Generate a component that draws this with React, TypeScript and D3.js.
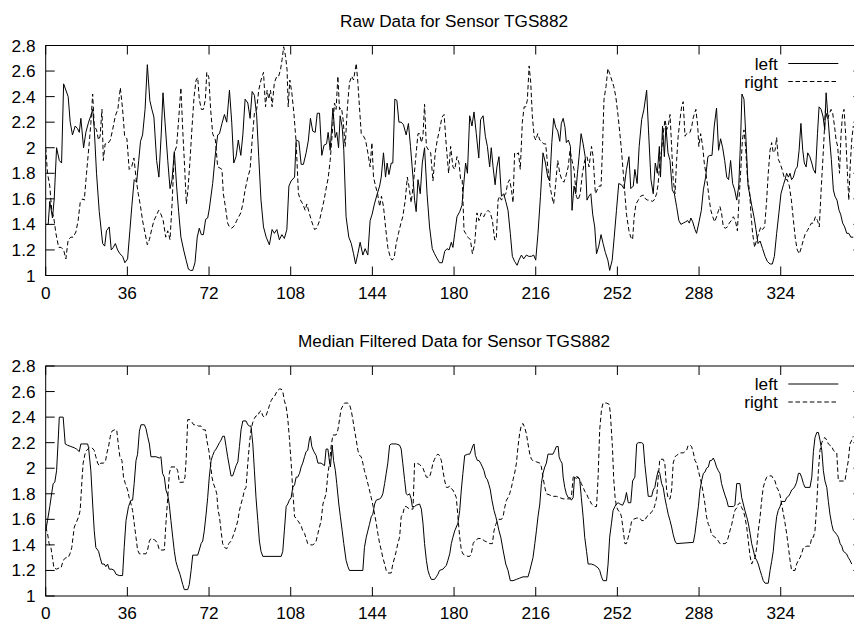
import React from "react";
import * as d3 from "d3";

// ---- data (x = sample index, y = sensor value) ----
const rawLeft: [number, number][] = [[0,1.40],[1.1,1.40],[1.8,1.58],[3,1.45],[3.75,1.6],[4.8,2.0],[6,1.9],[7,1.88],[7.9,2.5],[9.9,2.4],[10.8,2.2],[11.8,2.1],[13,2.17],[14,2.15],[14.8,2.12],[15.5,2.23],[16.7,2.0],[17.7,2.12],[18.9,2.2],[19.9,2.25],[20.7,2.3],[21.4,2.15],[22.4,1.8],[23.6,1.5],[25.1,1.25],[26,1.23],[26.8,1.35],[28,1.38],[28.9,1.2],[29.8,1.22],[30.7,1.25],[31.7,1.2],[32.7,1.17],[33.9,1.15],[34.9,1.1],[36.1,1.13],[37.1,1.35],[38,1.55],[39,1.75],[40.1,1.73],[41,1.9],[41.8,2.05],[42.7,2.1],[43.8,2.3],[44.8,2.65],[45.9,2.37],[46.8,2.3],[47.7,2.24],[48.9,1.9],[49.9,1.77],[50.9,2.1],[51.7,2.43],[52.6,2.2],[53.8,1.9],[54.8,1.68],[55.7,1.75],[56.7,1.97],[57.7,1.7],[58.6,1.5],[59.6,1.3],[60.8,1.2],[61.9,1.12],[62.9,1.05],[63.8,1.04],[64.8,1.04],[65.8,1.1],[66.8,1.3],[67.7,1.37],[68.6,1.32],[69.5,1.32],[70.5,1.44],[71.4,1.45],[72.1,1.52],[73.6,1.72],[74.8,1.95],[75.8,2.1],[76.6,2.11],[77.7,2.19],[78.8,2.26],[79.8,2.2],[81,2.45],[82,2.2],[82.9,1.88],[83.9,1.93],[84.9,2.06],[86,1.94],[86.9,2.1],[87.9,2.38],[89.1,2.35],[90.1,2.23],[91,2.44],[92,2.41],[93,2.25],[93.9,1.93],[94.9,1.59],[96,1.38],[97.2,1.3],[98.6,1.24],[99.8,1.36],[100.8,1.33],[101.9,1.36],[103,1.28],[104.1,1.32],[105.2,1.29],[106.3,1.36],[107.2,1.7],[108.2,1.74],[109.7,1.77],[110.4,2.06],[111.6,2.05],[112.6,1.87],[113.6,1.87],[114.8,1.96],[115.8,2.06],[116.7,2.23],[117.7,2.13],[118.8,2.12],[119.7,2.27],[120.7,2.27],[121.7,1.94],[122.7,2.02],[123.8,2.03],[124.5,2.12],[125.4,1.98],[126.6,2.31],[127.6,2.08],[128.3,2.12],[129.1,2.0],[129.8,2.25],[130.7,2.16],[131.4,1.98],[132.4,1.46],[133.6,1.3],[134.7,1.25],[135.7,1.17],[136.6,1.09],[137.6,1.17],[138.6,1.26],[139.8,1.16],[140.8,1.21],[142,1.16],[143,1.43],[143.9,1.48],[144.9,1.56],[146,1.63],[147.2,1.7],[147.9,1.77],[148.9,1.96],[149.8,1.77],[150.5,1.88],[151.3,1.79],[152.3,1.88],[153,1.88],[153.9,2.38],[154.8,2.37],[155.7,2.2],[156.7,2.2],[157.7,2.18],[158.9,2.1],[159.9,2.19],[160.8,2.01],[161.9,1.77],[162.6,1.59],[163.3,1.5],[164.1,1.75],[165.1,1.64],[166,1.88],[167,2.0],[168.1,1.64],[169.2,1.38],[170.4,1.21],[171.4,1.17],[172.6,1.13],[173.6,1.1],[174.8,1.1],[175.9,1.19],[176.9,1.21],[177.8,1.2],[178.8,1.26],[179.5,1.22],[180.3,1.33],[181.3,1.46],[182.5,1.5],[183.5,1.55],[184.2,1.7],[185.1,1.88],[185.9,1.8],[186.9,2.25],[187.9,2.17],[188.8,2.28],[189.8,2.11],[190.9,1.92],[191.7,2.22],[192.8,2.25],[193.8,2.09],[194.7,2.01],[195.7,1.85],[196.4,2.0],[197.2,1.85],[198.1,1.71],[198.9,1.85],[199.8,1.93],[200.9,1.62],[201.9,1.64],[202.8,1.58],[203.8,1.51],[204.8,1.33],[205.7,1.15],[206.7,1.11],[207.8,1.08],[208.6,1.12],[209.7,1.16],[210.7,1.13],[211.9,1.16],[212.9,1.15],[214.1,1.15],[215.1,1.16],[216,1.12],[217,1.33],[218.1,1.62],[219.2,1.96],[220.3,1.88],[221.3,1.77],[222.2,1.74],[223.1,2.04],[223.9,2.23],[224.8,2.16],[225.7,2.13],[226.6,2.05],[227.3,2.19],[228.1,2.23],[228.9,2.16],[229.5,2.04],[230.4,2.06],[231.3,2.01],[232,1.51],[232.9,1.7],[233.6,1.64],[234.4,1.8],[235.1,1.93],[236,2.11],[236.9,2.03],[237.8,1.93],[238.6,1.59],[239.4,1.62],[240.3,1.64],[241.1,1.48],[242,1.38],[242.8,1.17],[243.8,1.23],[244.8,1.32],[245.7,1.25],[246.7,1.18],[247.8,1.12],[248.6,1.04],[249.7,1.12],[250.6,1.3],[251.6,1.51],[252.6,1.72],[253.8,1.71],[254.9,1.68],[256,1.83],[257.1,1.93],[257.9,1.68],[259,1.7],[259.7,1.83],[260.7,1.72],[261.6,2.01],[262.7,2.22],[263.7,2.3],[264.9,2.45],[265.7,2.14],[266.8,1.75],[267.8,1.64],[268.7,1.88],[269.6,1.8],[270.5,2.01],[271,1.77],[271.9,2.17],[272.7,1.93],[273.4,2.17],[274.3,1.96],[275.2,1.9],[276.2,1.67],[277.1,1.64],[278.1,1.54],[279.1,1.43],[280,1.4],[281,1.41],[282.1,1.42],[283,1.43],[283.7,1.41],[284.4,1.45],[285.2,1.42],[286.2,1.36],[286.9,1.33],[288,1.42],[289,1.51],[289.9,1.67],[290.9,1.77],[291.9,1.93],[292.8,1.94],[293.7,1.94],[294.7,2.17],[295.7,2.31],[296.6,1.98],[297.5,2.07],[298.4,2.0],[299.3,1.9],[300.2,1.77],[301,1.75],[301.9,1.9],[302.8,1.72],[303.7,1.67],[304.6,1.59],[305.5,1.7],[306.3,2.06],[306.9,2.42],[307.8,2.38],[308.7,2.06],[309.6,1.7],[310.5,1.62],[311.3,1.54],[312.2,1.46],[313.1,1.36],[314,1.25],[314.9,1.27],[316,1.21],[317.1,1.15],[318.1,1.11],[319.3,1.09],[320.3,1.09],[321.2,1.15],[322.2,1.33],[323.2,1.49],[324.1,1.64],[325.2,1.71],[325.9,1.75],[326.6,1.8],[327.4,1.77],[328.1,1.8],[328.8,1.75],[329.6,1.77],[330.5,1.83],[331.3,1.85],[332.1,1.98],[332.9,2.19],[333.7,1.98],[334.4,1.88],[335.2,1.85],[335.9,1.96],[336.8,1.93],[337.7,1.88],[338.4,1.83],[339.3,1.8],[340.2,2.11],[340.9,2.32],[341.8,2.3],[342.7,2.24],[343.4,2.14],[344,2.43],[344.9,2.22],[345.6,2.06],[346.3,1.91],[347.2,1.67],[347.9,1.62],[348.8,1.59],[349.7,1.51],[350.4,1.48],[351.3,1.41],[352.2,1.38],[353.1,1.33],[354,1.33],[354.9,1.3],[356,1.3]];

const rawRight: [number, number][] = [[0,2.0],[0.8,1.8],[1.8,1.7],[2.7,1.5],[3.5,1.46],[4.5,1.33],[5.7,1.22],[6.8,1.22],[7.9,1.2],[8.9,1.13],[9.9,1.28],[11.1,1.3],[12.1,1.3],[13.3,1.34],[14.3,1.43],[15.2,1.57],[16.3,1.6],[17,1.59],[18,1.8],[19.2,2.04],[19.9,2.19],[20.7,2.42],[21.4,2.17],[22.4,2.14],[23.3,2.06],[24,2.09],[24.8,2.3],[25.4,1.9],[26.2,2.03],[27.3,2.03],[28.5,2.06],[29.5,2.14],[30.7,2.25],[31.8,2.3],[32.9,2.47],[33.9,2.3],[34.8,2.09],[35.8,2.07],[36.8,1.83],[37.9,1.85],[38.9,1.92],[39.9,1.75],[40.8,1.64],[41.8,1.54],[42.7,1.43],[43.8,1.33],[44.8,1.24],[45.7,1.28],[46.7,1.36],[47.7,1.43],[48.8,1.47],[49.8,1.51],[50.8,1.48],[51.8,1.43],[52.9,1.3],[53.8,1.35],[54.8,1.28],[55.7,1.56],[56.7,1.96],[57.7,2.01],[58.6,2.22],[59.6,2.47],[60.4,2.14],[61.1,1.9],[62,1.56],[62.7,1.67],[63.6,1.9],[64.5,2.16],[65.4,2.4],[66.3,2.53],[67,2.55],[67.7,2.38],[68.6,2.3],[69.5,2.3],[70.4,2.38],[71,2.59],[71.9,2.55],[72.7,2.3],[73.6,2.11],[74.8,2.06],[75.8,1.85],[76.9,1.84],[77.7,1.83],[78.3,1.64],[79.2,1.54],[80.2,1.41],[81,1.38],[82,1.37],[83.2,1.39],[84.2,1.43],[85.1,1.46],[86,1.49],[86.9,1.56],[87.9,1.67],[89.1,1.77],[90.1,1.83],[91,2.06],[92,2.27],[93,2.3],[93.9,2.45],[94.9,2.53],[96,2.59],[96.9,2.32],[97.6,2.45],[98.3,2.38],[99.1,2.45],[99.8,2.32],[100.8,2.51],[101.9,2.56],[102.7,2.56],[103.5,2.61],[104.2,2.69],[104.9,2.79],[105.7,2.72],[106.4,2.61],[106.9,2.32],[107.6,2.53],[108.5,2.43],[109.4,2.27],[110.4,2.04],[111.4,1.64],[112.3,1.59],[113.3,1.56],[114.4,1.51],[115.1,1.56],[116.3,1.48],[117.3,1.42],[118.5,1.36],[119.5,1.37],[120.7,1.43],[121.7,1.51],[122.7,1.59],[123.8,1.7],[124.5,1.76],[125.4,1.9],[126.3,2.11],[127.3,2.35],[128,2.3],[128.8,2.56],[129.5,2.3],[130.4,2.31],[131.1,2.22],[132,2.01],[133,2.32],[133.9,2.51],[134.9,2.56],[135.7,2.53],[136.9,2.66],[137.6,2.51],[138.3,2.32],[139.1,2.11],[140.1,2.09],[141,2.06],[142,1.96],[143,1.85],[143.8,2.04],[144.5,1.77],[145.4,1.7],[146.3,1.64],[147.2,1.54],[148,1.62],[148.9,1.54],[149.8,1.38],[150.8,1.22],[151.9,1.14],[152.7,1.12],[153.6,1.14],[154.5,1.25],[155.5,1.33],[156.6,1.41],[157.4,1.46],[158.5,1.59],[159.4,1.77],[160.1,1.7],[161.1,1.57],[162.1,1.72],[163,1.9],[164.1,2.11],[164.8,2.11],[165.6,2.04],[166.3,2.09],[167,2.34],[167.8,2.01],[168.8,1.98],[169.7,1.96],[170.7,1.74],[171.7,1.96],[172.6,2.06],[173.6,2.14],[174.7,2.24],[175.6,2.26],[176.6,2.01],[177.6,1.8],[178.5,2.01],[179.5,1.85],[180.3,1.83],[181.3,1.93],[182.2,1.88],[182.9,1.75],[183.6,1.75],[184.4,1.35],[185.1,1.33],[186.1,1.3],[187.2,1.28],[188.1,1.17],[189.1,1.25],[190.1,1.49],[191,1.43],[192,1.49],[193.1,1.46],[193.9,1.49],[195,1.51],[196,1.49],[196.9,1.43],[197.9,1.28],[198.6,1.28],[199.4,1.59],[200.1,1.62],[200.9,1.59],[201.9,1.62],[202.8,1.64],[203.6,1.72],[204.5,1.75],[205.3,1.67],[206,1.57],[206.7,1.96],[207.5,1.95],[208.4,1.96],[209.2,1.83],[210.1,2.2],[210.9,2.32],[211.6,2.32],[212.3,2.37],[213.1,2.64],[213.8,2.51],[214.5,2.25],[215.3,2.09],[216,2.06],[216.9,2.11],[217.8,2.06],[218.6,2.05],[219.5,2.03],[220.4,2.03],[221.3,1.85],[222.2,1.71],[223.1,1.62],[223.9,1.56],[224.8,1.72],[225.7,1.9],[226.6,1.8],[227.5,1.75],[228.4,1.73],[229.2,1.77],[230.3,1.85],[231.1,1.98],[232,1.9],[232.9,1.83],[233.9,1.62],[234.7,1.59],[235.6,1.64],[236.6,1.8],[237.6,1.9],[238.6,1.93],[239.5,1.85],[240.6,2.01],[241.3,1.93],[242.3,1.64],[243.1,1.67],[243.9,1.7],[244.8,1.7],[245.4,1.98],[246.1,2.38],[247,2.48],[247.8,2.62],[248.6,2.58],[249.5,2.53],[250.4,2.48],[251.3,2.4],[252.3,2.25],[253.1,2.11],[253.8,1.98],[254.6,1.8],[255.3,1.64],[256,1.48],[257.1,1.35],[257.9,1.3],[258.7,1.28],[259.4,1.46],[260.2,1.56],[261.2,1.59],[262.2,1.62],[263.4,1.63],[264.4,1.6],[265.3,1.59],[266.3,1.59],[267.4,1.58],[268.2,1.59],[269.3,1.64],[270,1.72],[270.7,1.9],[271.5,1.98],[272.2,2.11],[273,2.22],[273.7,2.14],[274.4,2.17],[275.2,2.26],[275.9,2.01],[276.6,1.75],[277.4,1.64],[278.1,1.9],[278.8,2.09],[279.6,2.22],[280.3,2.32],[281,2.36],[281.8,2.09],[282.5,2.11],[283.2,2.11],[284,2.12],[284.7,2.16],[285.5,2.24],[286.6,2.3],[287.4,2.17],[287.9,2.01],[288.7,2.11],[289.6,2.01],[290.3,1.88],[291,1.8],[291.8,1.7],[292.5,1.59],[293.2,1.51],[294,1.46],[294.9,1.42],[295.7,1.46],[296.6,1.51],[297.2,1.54],[297.9,1.49],[298.7,1.38],[299.6,1.37],[300.5,1.38],[301.3,1.41],[302.2,1.43],[303.1,1.46],[304,1.43],[304.9,1.35],[305.6,1.59],[306.3,1.8],[307.1,2.06],[307.8,2.14],[308.5,2.01],[309.3,1.77],[310.2,1.67],[310.9,1.48],[311.6,1.33],[312.5,1.22],[313.4,1.28],[314.3,1.33],[315.2,1.38],[316,1.36],[316.9,1.38],[317.8,1.59],[318.5,1.8],[319.3,1.98],[320,2.04],[320.7,1.96],[321.5,1.98],[322.2,2.08],[322.9,1.91],[323.7,1.88],[324.6,1.83],[325.5,1.77],[326.2,1.75],[326.9,1.75],[327.8,1.7],[328.7,1.59],[329.6,1.43],[330.5,1.28],[331.3,1.2],[332.2,1.17],[333.1,1.22],[334,1.28],[334.9,1.33],[335.7,1.35],[336.6,1.38],[337.5,1.41],[338.4,1.41],[339.3,1.46],[340.2,1.43],[341,1.38],[341.9,1.7],[342.8,1.98],[343.7,2.3],[344.6,2.22],[345.5,2.27],[346.2,2.3],[346.9,2.27],[347.7,2.17],[348.4,2.06],[349.1,2.01],[349.9,1.8],[350.6,2.11],[351.3,2.27],[351.9,2.3],[352.6,2.11],[353.4,1.8],[354,1.59],[354.6,1.85],[355.3,2.06],[356,2.17]];

const medLeft: [number, number][] = [[0,1.51],[0.8,1.59],[1.8,1.7],[2.6,1.8],[3.3,1.88],[4,1.89],[4.8,1.98],[5.5,2.22],[6,2.4],[7.7,2.4],[8.6,2.19],[9.6,2.18],[11.1,2.17],[12.6,2.16],[13.6,2.15],[14.8,2.13],[15.5,2.19],[16.3,2.19],[18.5,2.19],[18.9,2.16],[19.9,1.98],[20.7,1.72],[21.4,1.51],[22.1,1.38],[23.3,1.35],[24,1.3],[24.8,1.25],[25.8,1.25],[26.5,1.23],[27.3,1.25],[28,1.21],[29.2,1.21],[30.2,1.2],[31,1.17],[32.4,1.16],[33.9,1.16],[34.6,1.38],[35.4,1.59],[36.5,1.7],[37.6,1.75],[38.3,1.75],[39,1.88],[39.8,2.06],[40.5,2.11],[41.3,2.29],[42,2.34],[43.5,2.34],[44.2,2.31],[44.9,2.25],[45.7,2.19],[46.4,2.09],[48.6,2.09],[50.1,2.08],[50.8,2.09],[51.5,1.96],[52.3,1.93],[53,1.83],[53.8,1.79],[54.5,1.71],[55.2,1.59],[56,1.46],[56.7,1.35],[57.4,1.27],[58.2,1.22],[59.2,1.17],[60.4,1.09],[61.1,1.05],[62.6,1.05],[63.3,1.09],[64.1,1.2],[64.8,1.32],[65.5,1.32],[67,1.32],[67.7,1.36],[68.5,1.41],[69.2,1.43],[69.9,1.51],[70.7,1.64],[71.4,1.77],[72.1,1.93],[72.9,2.06],[73.6,2.1],[74.3,2.13],[75.1,2.15],[76.6,2.2],[77.3,2.22],[78,2.25],[78.8,2.25],[79.5,2.17],[80.2,2.09],[81,2.01],[81.7,1.94],[82.4,1.94],[83.2,1.98],[83.9,2.02],[84.7,2.05],[85.4,2.17],[86.1,2.3],[86.9,2.37],[88.3,2.37],[89.1,2.34],[89.8,2.33],[90.5,2.33],[91.3,2.19],[92,1.98],[92.7,1.77],[93.5,1.59],[94.2,1.43],[94.9,1.35],[95.7,1.31],[103.8,1.31],[104.5,1.35],[105.2,1.51],[106,1.7],[106.7,1.72],[107.4,1.75],[108.2,1.77],[108.9,1.85],[109.7,1.87],[110.4,1.93],[111.1,1.93],[111.9,1.96],[112.6,2.01],[113.3,2.04],[114.1,2.09],[114.8,2.13],[115.5,2.14],[116.3,2.23],[116.7,2.25],[117.3,2.17],[118.2,2.13],[119.2,2.1],[120,2.04],[121.4,2.04],[122.9,2.02],[123.6,2.15],[124.4,2.15],[125.1,2.05],[125.5,2.01],[126.3,2.18],[126.9,2.06],[127.7,1.98],[128.3,1.88],[129.2,1.72],[129.9,1.62],[130.7,1.51],[131.4,1.41],[132.4,1.28],[133.2,1.23],[133.9,1.2],[139.8,1.2],[140.5,1.38],[141.3,1.46],[142,1.51],[142.7,1.56],[143.5,1.62],[144.2,1.64],[145,1.72],[145.7,1.75],[147.2,1.76],[147.9,1.77],[148.6,1.8],[149.4,1.88],[150.1,1.96],[150.8,2.04],[151.6,2.18],[152.3,2.19],[154.5,2.19],[156,2.18],[156.7,2.15],[157.4,2.04],[158.2,1.91],[158.9,1.8],[159.6,1.79],[160.4,1.8],[161.1,1.76],[161.6,1.7],[162.6,1.7],[163.3,1.71],[164.8,1.72],[165.6,1.68],[166.3,1.57],[167,1.41],[167.8,1.28],[168.5,1.2],[169.2,1.16],[170,1.13],[171.4,1.13],[172.2,1.15],[172.9,1.17],[173.6,1.2],[175.1,1.21],[176.6,1.24],[177.3,1.28],[178.1,1.33],[178.8,1.41],[179.5,1.46],[180.3,1.51],[181,1.54],[181.7,1.57],[182.5,1.67],[183.2,1.83],[183.9,1.96],[184.7,2.1],[186.1,2.11],[186.9,2.11],[187.6,2.14],[188.4,2.18],[188.8,2.19],[189.4,2.1],[190.3,2.06],[191,2.06],[191.7,2.04],[192.5,2.01],[193.2,1.98],[193.9,1.93],[194.7,1.91],[195.4,1.87],[196,1.83],[196.7,1.75],[197.6,1.67],[198.4,1.62],[199.1,1.57],[199.8,1.51],[200.6,1.46],[201.6,1.36],[202.8,1.25],[203.8,1.2],[204.8,1.12],[206,1.12],[207.5,1.13],[208.9,1.14],[210.4,1.15],[212.6,1.15],[213.4,1.2],[214.1,1.25],[214.8,1.3],[215.6,1.41],[216.3,1.51],[217,1.62],[217.8,1.72],[218.5,1.88],[219.2,1.96],[220,2.01],[220.7,2.04],[221.4,2.11],[223.6,2.11],[224.4,2.14],[225.1,2.17],[225.9,2.17],[226.3,2.09],[226.9,2.06],[227.6,2.04],[228.1,1.93],[228.8,1.85],[229.5,1.8],[230.3,1.77],[231,1.77],[231.7,1.75],[232.5,1.77],[233.1,1.93],[233.9,1.92],[234.7,1.93],[235.4,1.91],[236.1,1.77],[236.9,1.62],[237.6,1.46],[238.4,1.35],[239.1,1.25],[240.6,1.25],[242,1.24],[243.5,1.22],[244.2,1.2],[245,1.15],[245.7,1.12],[247.2,1.12],[247.9,1.25],[248.6,1.46],[249.4,1.57],[250.1,1.67],[250.9,1.7],[251.6,1.72],[252.3,1.73],[253.1,1.72],[254.3,1.71],[255.3,1.75],[256,1.81],[256.8,1.73],[257.9,1.73],[258.7,1.9],[259.7,1.93],[260.5,2.19],[261.2,2.2],[262.7,2.2],[263.4,2.19],[264.1,2.03],[264.9,1.9],[265.6,1.78],[267.1,1.78],[267.8,1.83],[268.5,1.85],[269.3,1.93],[270,1.98],[270.7,1.96],[271.5,1.88],[272.2,1.85],[272.9,1.77],[273.7,1.7],[274.4,1.64],[275.2,1.59],[275.9,1.54],[276.6,1.48],[277.4,1.43],[278.1,1.41],[285.5,1.42],[286.2,1.49],[286.9,1.59],[287.7,1.7],[288.4,1.83],[289.1,1.9],[289.9,1.96],[290.6,1.97],[291.3,2.0],[292.1,2.01],[292.8,2.06],[293.5,2.06],[294.3,2.08],[295,2.05],[295.7,2.01],[296.5,1.98],[297.2,1.96],[297.9,1.88],[298.7,1.83],[299.4,1.79],[300.2,1.75],[300.9,1.7],[303.1,1.7],[303.8,1.71],[304.6,1.88],[306,1.88],[306.8,1.77],[307.5,1.72],[308.2,1.67],[309,1.62],[309.7,1.57],[310.5,1.49],[311.2,1.41],[311.9,1.36],[312.7,1.3],[313.4,1.28],[314.1,1.25],[314.9,1.2],[315.6,1.16],[316.3,1.12],[317.1,1.1],[318.5,1.1],[319.3,1.2],[320,1.27],[320.7,1.35],[321.5,1.51],[322.2,1.62],[322.9,1.67],[323.7,1.7],[324.4,1.74],[325.9,1.74],[326.6,1.77],[327.4,1.78],[328.1,1.8],[328.8,1.83],[329.6,1.84],[330.3,1.86],[331,1.89],[331.8,1.96],[332.5,1.96],[333.2,1.93],[334,1.88],[334.7,1.85],[336.9,1.85],[337.7,1.93],[338.4,2.13],[339.1,2.24],[339.9,2.28],[340.6,2.28],[341.3,2.22],[342.1,2.14],[342.8,1.98],[343.5,1.9],[344.3,1.85],[345,1.74],[345.7,1.64],[346.5,1.56],[347.2,1.51],[347.9,1.5],[348.7,1.48],[349.4,1.46],[350.2,1.41],[350.9,1.39],[351.6,1.35],[352.3,1.34],[353,1.33],[353.8,1.3],[354.5,1.28],[355.3,1.25]];

const medRight: [number, number][] = [[0,1.54],[0.8,1.49],[1.5,1.41],[2.3,1.38],[3,1.3],[3.6,1.22],[4.8,1.21],[6,1.22],[6.8,1.22],[7.7,1.28],[8.9,1.3],[9.9,1.3],[10.7,1.33],[11.5,1.38],[12.6,1.54],[13.6,1.58],[14.5,1.62],[15.2,1.67],[16,1.91],[16.5,2.04],[17.3,2.11],[18,2.14],[19.2,2.16],[20.4,2.16],[21.4,2.14],[22.1,2.09],[22.9,2.04],[23.6,2.02],[24.3,2.04],[25.4,2.04],[26.3,2.05],[27,2.12],[27.7,2.17],[28.5,2.25],[29.2,2.29],[30.2,2.3],[31.3,2.3],[32.1,2.17],[32.7,2.09],[33.6,2.06],[34.3,1.93],[35.1,1.88],[36.1,1.83],[36.8,1.77],[37.6,1.72],[38.3,1.67],[39,1.57],[39.8,1.46],[40.5,1.36],[41.3,1.33],[44.2,1.33],[44.9,1.36],[45.7,1.43],[46.4,1.45],[47.9,1.44],[48.6,1.43],[49.3,1.41],[50.1,1.36],[52.3,1.36],[53,1.57],[53.8,1.77],[54.5,1.96],[55.2,2.01],[57.4,2.01],[58.2,1.98],[58.9,1.89],[60.7,1.89],[61.4,1.93],[61.9,2.07],[62.6,2.38],[63.6,2.38],[64.5,2.36],[65.2,2.34],[66.3,2.34],[67.4,2.33],[68.5,2.33],[69.5,2.3],[70.4,2.3],[71,2.22],[71.9,2.14],[72.6,2.04],[73.3,1.93],[73.9,1.88],[74.8,1.84],[75.4,1.8],[76,1.67],[76.6,1.62],[77.3,1.51],[78,1.41],[78.8,1.38],[79.8,1.37],[80.7,1.41],[81.7,1.43],[82.4,1.46],[83.2,1.5],[83.9,1.54],[84.7,1.59],[85.4,1.67],[86.1,1.72],[86.9,1.77],[87.6,1.83],[88.3,1.85],[89.1,2.04],[89.8,2.19],[90.5,2.3],[91.3,2.36],[92,2.39],[92.7,2.41],[93.5,2.41],[94.2,2.44],[94.9,2.45],[95.7,2.41],[96.4,2.4],[97.1,2.41],[97.9,2.45],[98.6,2.49],[99.4,2.53],[100.1,2.55],[100.8,2.56],[101.6,2.59],[102.3,2.61],[103,2.62],[103.8,2.62],[104.5,2.6],[105.2,2.53],[106,2.48],[106.7,2.39],[107.4,2.24],[108.2,2.04],[108.9,1.83],[109.7,1.62],[110.4,1.61],[111.1,1.59],[111.9,1.57],[112.6,1.55],[113.3,1.51],[114.1,1.49],[114.8,1.45],[115.5,1.41],[116.3,1.4],[117.7,1.4],[118.5,1.41],[119.2,1.43],[120,1.49],[120.7,1.54],[121.4,1.59],[122.2,1.72],[122.9,1.76],[123.6,1.8],[124.4,1.96],[125.1,2.04],[125.8,2.17],[126.6,2.26],[128,2.26],[128.8,2.3],[129.5,2.38],[130.2,2.46],[131,2.49],[131.7,2.51],[133.2,2.51],[133.9,2.5],[134.7,2.45],[135.4,2.38],[136.1,2.3],[136.9,2.22],[137.6,2.14],[138.3,2.1],[139.1,2.09],[139.8,2.04],[140.5,1.98],[141.3,1.93],[142,1.88],[142.7,1.83],[143.5,1.77],[144.2,1.71],[145,1.64],[145.7,1.57],[146.4,1.49],[147.2,1.41],[147.9,1.36],[148.6,1.3],[149.4,1.25],[150.1,1.2],[150.8,1.18],[152.3,1.18],[153,1.25],[153.8,1.3],[154.5,1.35],[155.2,1.41],[156,1.46],[156.7,1.62],[157.4,1.64],[158.2,1.7],[158.9,1.7],[160.4,1.68],[161.9,1.68],[162.6,2.04],[163.3,2.04],[164.8,2.03],[166.3,2.0],[167.8,1.93],[169.2,1.93],[170,1.98],[170.7,2.04],[171.4,2.07],[172.2,2.1],[172.9,2.11],[173.6,2.1],[174.4,2.06],[175.1,1.98],[175.9,1.9],[176.6,1.85],[177.3,1.85],[178.1,1.86],[178.8,1.84],[179.5,1.83],[180.3,1.8],[181,1.77],[181.7,1.62],[182.5,1.46],[183.2,1.36],[183.9,1.33],[184.7,1.32],[186.1,1.31],[186.9,1.31],[187.6,1.33],[188.4,1.41],[189.1,1.43],[190.6,1.45],[192,1.45],[193.5,1.43],[195,1.42],[195.7,1.41],[196.9,1.41],[197.6,1.51],[198.4,1.56],[199.1,1.59],[199.8,1.6],[200.9,1.6],[201.6,1.62],[202.3,1.69],[203.1,1.75],[203.8,1.77],[204.5,1.8],[205.3,1.85],[206,1.91],[206.7,1.96],[207.5,2.04],[208.2,2.17],[208.9,2.27],[209.7,2.34],[210.4,2.35],[211.1,2.32],[211.9,2.27],[212.6,2.19],[213.4,2.11],[214.1,2.07],[214.8,2.06],[216.3,2.05],[217.8,2.04],[218.5,2.01],[219.2,1.93],[220,1.85],[220.7,1.8],[222.2,1.79],[223.6,1.78],[225.1,1.78],[226.6,1.77],[228.1,1.76],[231,1.76],[231.7,1.77],[232.5,1.93],[233.2,1.94],[234.7,1.93],[235.4,1.91],[236.1,1.88],[236.9,1.85],[237.6,1.82],[238.4,1.8],[239.1,1.77],[239.8,1.75],[240.6,1.72],[241.3,1.71],[242,1.7],[242.8,1.7],[243.5,1.93],[244.2,2.3],[245,2.46],[245.7,2.51],[247.2,2.51],[248.4,2.5],[248.9,2.43],[249.8,2.17],[250.4,1.91],[251,1.77],[251.6,1.7],[252.3,1.67],[253.1,1.66],[253.8,1.62],[254.6,1.51],[255.3,1.41],[256,1.41],[256.8,1.46],[257.5,1.51],[258.2,1.58],[259,1.6],[260.5,1.61],[261.9,1.61],[262.7,1.59],[264.1,1.59],[264.9,1.62],[265.6,1.63],[266.3,1.64],[267.1,1.66],[267.8,1.67],[268.5,1.71],[269.3,1.77],[270,1.93],[270.7,2.07],[272.2,2.07],[272.9,2.04],[273.7,1.83],[274.4,1.76],[275.2,1.76],[275.9,1.83],[276.6,2.04],[277.4,2.09],[278.1,2.1],[279.6,2.12],[281,2.12],[281.8,2.13],[282.5,2.14],[283.2,2.18],[284,2.18],[284.7,2.17],[285.5,2.12],[286.2,2.06],[286.9,2.04],[287.7,1.98],[288.4,1.93],[289.1,1.88],[289.9,1.8],[290.6,1.72],[291.3,1.62],[292.1,1.56],[292.8,1.54],[293.5,1.48],[295,1.46],[295.7,1.45],[296.5,1.43],[297.2,1.41],[299.4,1.41],[300.2,1.42],[300.9,1.46],[301.6,1.51],[302.4,1.56],[303.1,1.62],[303.8,1.67],[304.6,1.69],[305.3,1.72],[306,1.73],[306.8,1.69],[307.5,1.67],[308.2,1.62],[309,1.54],[309.7,1.43],[310.5,1.31],[311.2,1.25],[311.9,1.28],[312.7,1.3],[313.4,1.38],[314.1,1.51],[314.9,1.62],[315.6,1.75],[316.3,1.85],[317.1,1.9],[317.8,1.93],[318.5,1.94],[320,1.94],[320.7,1.92],[321.5,1.9],[322.2,1.85],[322.9,1.83],[323.7,1.79],[324.4,1.72],[325.2,1.64],[325.9,1.57],[326.6,1.49],[327.4,1.38],[328.1,1.28],[328.8,1.2],[330.3,1.2],[331,1.25],[331.8,1.28],[332.5,1.3],[333.2,1.33],[334,1.38],[335.5,1.39],[336.9,1.39],[337.7,1.46],[338.4,1.46],[339.1,1.51],[339.9,1.72],[340.6,1.98],[341.3,2.14],[342.1,2.2],[342.8,2.23],[343.5,2.24],[344.3,2.22],[345,2.19],[345.7,2.18],[346.5,2.17],[347.2,2.14],[347.9,2.13],[348.7,2.12],[349.4,1.9],[352.3,1.9],[353,1.98],[353.8,2.06],[354.5,2.19],[355.3,2.22],[356,2.25]];

const xTicks = [0, 36, 72, 108, 144, 180, 216, 252, 288, 324];
const yTicks = [1, 1.2, 1.4, 1.6, 1.8, 2, 2.2, 2.4, 2.6, 2.8];
const titles = ["Raw Data for Sensor TGS882", "Median Filtered Data for Sensor TGS882"];
const seriesNames = ["left", "right"];

const W = 854;
const H = 621;
const FONT = "'Liberation Sans', Arial, Helvetica, sans-serif";
const FS = 17.2;
const TICK = 9;
const DASH = "4.5,2.7";

const x = d3.scaleLinear().domain([0, 360]).range([45.7, 862.4]);

type Panel = { title: string; top: number; bottom: number; labelDy: number; left: [number, number][]; right: [number, number][] };
const panels: Panel[] = [
  { title: titles[0], top: 45.5, bottom: 275.5, labelDy: 17.8, left: rawLeft, right: rawRight },
  { title: titles[1], top: 366, bottom: 596, labelDy: 16.6, left: medLeft, right: medRight },
];

function PanelView({ p, idx }: { p: Panel; idx: number }) {
  const y = d3.scaleLinear().domain([1, 2.8]).range([p.bottom, p.top]);
  const line = d3.line<[number, number]>().x((d) => x(d[0])).y((d) => y(d[1]));
  const [x0, x1] = x.range();
  const clipId = `clip${idx}`;
  const legY0 = p.top + 18;
  return (
    <g>
      <defs>
        <clipPath id={clipId}>
          <rect x={x0} y={p.top} width={x1 - x0} height={p.bottom - p.top} />
        </clipPath>
      </defs>
      <text x={(x0 + x1) / 2} y={p.top - 25} textAnchor="middle" dominantBaseline="central" fontFamily={FONT} fontSize={FS} fill="#000">
        {p.title}
      </text>
      {xTicks.map((t) => (
        <g key={"x" + t}>
          <line x1={x(t)} x2={x(t)} y1={p.bottom} y2={p.bottom - TICK} stroke="#000" strokeWidth={1} />
          <line x1={x(t)} x2={x(t)} y1={p.top} y2={p.top + TICK} stroke="#000" strokeWidth={1} />
          <text x={x(t)} y={p.bottom + p.labelDy} textAnchor="middle" dominantBaseline="central" fontFamily={FONT} fontSize={FS} fill="#000">
            {t}
          </text>
        </g>
      ))}
      {yTicks.map((t) => (
        <g key={"y" + t}>
          <line x1={x0} x2={x0 + TICK} y1={y(t)} y2={y(t)} stroke="#000" strokeWidth={1} />
          <line x1={x1} x2={x1 - TICK} y1={y(t)} y2={y(t)} stroke="#000" strokeWidth={1} />
          <text x={35.5} y={y(t)} textAnchor="end" dominantBaseline="central" fontFamily={FONT} fontSize={FS} fill="#000">
            {d3.format("~g")(t)}
          </text>
        </g>
      ))}
      <g clipPath={`url(#${clipId})`}>
        <path d={line(p.left) || ""} fill="none" stroke="#000" strokeWidth={1} />
        <path d={line(p.right) || ""} fill="none" stroke="#000" strokeWidth={1} strokeDasharray={DASH} />
      </g>
      {seriesNames.map((n, i) => (
        <g key={n}>
          <text x={777.7} y={legY0 + i * 18} textAnchor="end" dominantBaseline="central" fontFamily={FONT} fontSize={FS} fill="#000">
            {n}
          </text>
          <line x1={788.3} x2={838.3} y1={legY0 + i * 18} y2={legY0 + i * 18} stroke="#000" strokeWidth={1} strokeDasharray={i === 1 ? DASH : undefined} />
        </g>
      ))}
      <rect x={x0} y={p.top} width={x1 - x0} height={p.bottom - p.top} fill="none" stroke="#000" strokeWidth={1} />
    </g>
  );
}

export default function App() {
  return (
    <svg width={W} height={H} viewBox={`0 0 ${W} ${H}`} style={{ position: "absolute", left: 0, top: 0, background: "#fff" }}>
      <rect x={0} y={0} width={W} height={H} fill="#fff" />
      {panels.map((p, i) => (
        <PanelView key={i} p={p} idx={i} />
      ))}
    </svg>
  );
}
